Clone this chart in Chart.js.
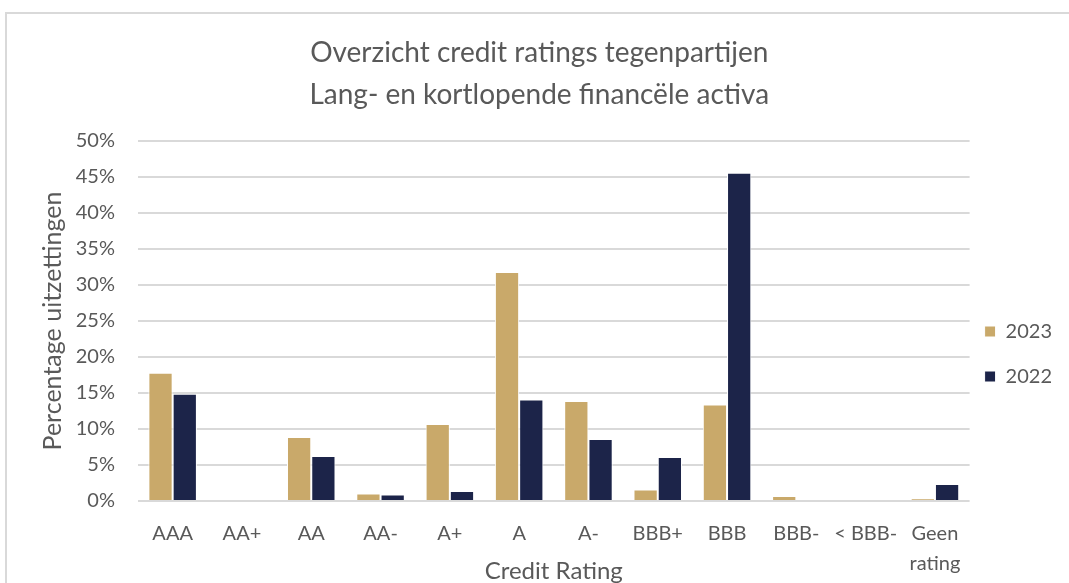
<!DOCTYPE html>
<html>
<head>
<meta charset="utf-8">
<script src="https://cdn.jsdelivr.net/npm/chart.js@4"></script>
<style>
  html, body { margin: 0; padding: 0; background: #fff; overflow: hidden; }
  #frame { position: absolute; left: 5px; top: 12px; width: 1200px; height: 700px; border: 2px solid #d9d9d9; }
  #wrap { position: absolute; left: 0; top: 0; width: 1069px; height: 583px; }
</style>
</head>
<body>
<div id="frame"></div>
<div id="wrap"><canvas id="chart"></canvas></div>
<script>
const ratings = ["AAA", "AA+", "AA", "AA-", "A+", "A", "A-", "BBB+", "BBB", "BBB-", "< BBB-", ["Geen", "rating"]];
const values2023 = [17.8, 0, 8.9, 1.05, 10.7, 31.8, 13.9, 1.6, 13.4, 0.7, 0, 0.35];
const values2022 = [14.9, 0, 6.25, 0.9, 1.4, 14.1, 8.6, 6.1, 45.6, 0, 0, 2.35];
const yTicks = [0, 5, 10, 15, 20, 25, 30, 35, 40, 45, 50];

const grijs = "#595959";
const font = "Lato, 'Open Sans', sans-serif";
const nb = "\u00a0\u00a0\u00a0"; // titel iets naar links, zoals in Excel

var ctx = document.getElementById("chart").getContext("2d");
var myChart = new Chart(ctx, {
  type: "bar",
  data: {
    labels: ratings,
    datasets: [
      {
        label: "2023",
        data: values2023,
        backgroundColor: "#c9a96a",
        borderColor: "#ffffff",
        borderWidth: 1,
      },
      {
        label: "2022",
        data: values2022,
        backgroundColor: "#1c2449",
        borderColor: "#ffffff",
        borderWidth: 1,
      },
    ],
  },
  options: {
    responsive: true,
    maintainAspectRatio: false,
    animation: false,
    categoryPercentage: 0.7,
    barPercentage: 1,
    layout: { padding: { top: 32, left: 38, right: 7, bottom: 0 } },
    plugins: {
      tooltip: { enabled: false },
      title: {
        display: true,
        text: ["Overzicht credit ratings tegenpartijen" + nb, "Lang- en kortlopende financële activa" + nb],
        color: grijs,
        font: { family: font, size: 28, weight: "normal", lineHeight: 1.5 },
        padding: { top: 0, bottom: 25 },
      },
      legend: {
        position: "right",
        title: { display: true, text: " ", padding: { top: 91, bottom: 0 }, font: { size: 10 } },
        labels: {
          color: grijs,
          font: { family: font, size: 20, lineHeight: 1.5 },
          boxWidth: 11,
          boxHeight: 11,
          padding: 15,
          // tekst als array zodat de itemhoogte de regelhoogte volgt
          generateLabels: function (chart) {
            var items = Chart.defaults.plugins.legend.labels.generateLabels(chart);
            items.forEach(function (item) { item.text = [item.text]; });
            return items;
          },
        },
      },
    },
    scales: {
      x: {
        afterFit: function (axis) { axis.height = 82; },
        grid: { display: false, drawTicks: false },
        border: { display: false },
        ticks: { color: grijs, font: { family: font, size: 20, lineHeight: 1.5 }, padding: 18, maxRotation: 0, autoSkip: false },
        title: { display: true, text: "Credit Rating", color: grijs, font: { family: font, size: 24, lineHeight: 1 }, padding: 0 },
      },
      y: {
        min: 0,
        max: 50,
        afterBuildTicks: function (axis) {
          axis.ticks = yTicks.map(function (v) { return { value: v }; });
        },
        afterFit: function (axis) { axis.width = 100; },
        grid: { color: "#d9d9d9", lineWidth: 2, drawTicks: false },
        border: { display: false },
        ticks: {
          color: grijs,
          font: { family: font, size: 20 },
          padding: 23,
          callback: function (v) { return v + "%"; },
        },
        title: { display: true, text: "Percentage uitzettingen", color: grijs, font: { family: font, size: 25 }, padding: 0 },
      },
    },
  },
});
</script>
</body>
</html>
